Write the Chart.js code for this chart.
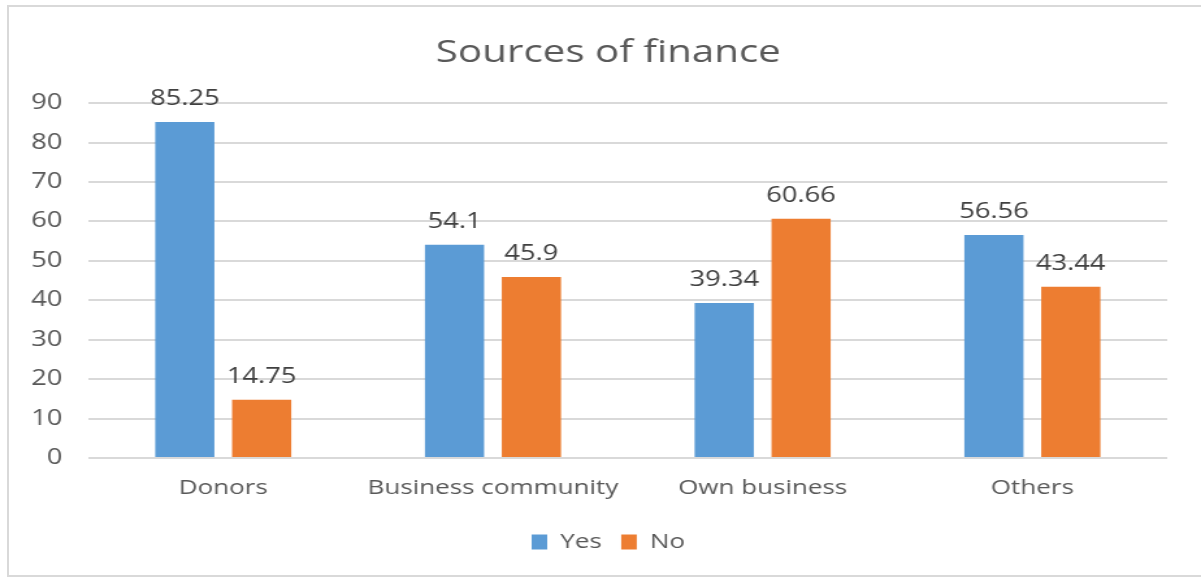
<!DOCTYPE html>
<html><head><meta charset="utf-8">
<script src="https://cdn.jsdelivr.net/npm/chart.js@4.4.1/dist/chart.umd.min.js"></script>
<style>
html,body{margin:0;padding:0;background:#fff;overflow:hidden;}
#wrap{position:absolute;left:0;top:0;width:1201px;height:578px;overflow:hidden;}
#frame{position:absolute;left:7px;top:5px;width:1220px;height:572px;border:2px solid #d9d9d9;box-sizing:border-box;}
#c{position:absolute;left:0;top:0;width:936px;height:578px;transform:scaleX(1.29978);transform-origin:0 0;}
</style></head>
<body>
<div id="wrap"><div id="frame"></div><canvas id="c" width="936" height="578"></canvas></div>
<script>
const categories = ["Donors", "Business community", "Own business", "Others"];
const yesValues = [85.25, 54.1, 39.34, 56.56];
const noValues = [14.75, 45.9, 60.66, 43.44];
const yTicks = [0, 10, 20, 30, 40, 50, 60, 70, 80, 90];

const FONT = "'Open Sans', 'Liberation Sans', sans-serif";
const TXT = "#595959";

const labelPlugin = {
  id: 'valLabels',
  afterDatasetsDraw(chart) {
    const ctx = chart.ctx;
    ctx.save();
    ctx.font = "21px " + FONT;
    ctx.fillStyle = "#404040";
    ctx.textAlign = "center";
    ctx.textBaseline = "alphabetic";
    chart.data.datasets.forEach((ds, i) => {
      chart.getDatasetMeta(i).data.forEach((el, j) => {
        ctx.fillText(String(ds.data[j]), el.x, el.y - 17);
      });
    });
    ctx.restore();
  }
};

new Chart(document.getElementById('c'), {
  type: 'bar',
  data: {
    labels: categories,
    datasets: [
      {label: 'Yes', data: yesValues, backgroundColor: '#5B9BD5', categoryPercentage: 0.57, barPercentage: 0.77},
      {label: 'No', data: noValues, backgroundColor: '#ED7D31', categoryPercentage: 0.57, barPercentage: 0.77}
    ]
  },
  options: {
    responsive: false,
    animation: false,
    devicePixelRatio: 1,
    layout: {padding: {left: 0, right: 0, top: 0, bottom: 16}},
    plugins: {
      title: {display: true, text: 'Sources of finance', color: TXT, font: {family: FONT, size: 31, weight: 'normal'}, padding: {top: 35, bottom: 31}},
      legend: {position: 'bottom', labels: {color: TXT, font: {family: FONT, size: 20}, boxWidth: 12, boxHeight: 15, padding: 15}},
      tooltip: {enabled: false}
    },
    scales: {
      x: {
        afterFit(s) { s.height = 59; },
        grid: {display: false},
        border: {display: false},
        ticks: {color: TXT, font: {family: FONT, size: 20}, padding: 10}
      },
      y: {
        min: 0, max: 90,
        afterFit(s) { s.width = 68; },
        afterBuildTicks(s) { s.ticks = yTicks.map(v => ({value: v})); },
        grid: {color: '#d9d9d9', lineWidth: 2, drawTicks: false},
        border: {display: false},
        ticks: {color: TXT, font: {family: FONT, size: 21}, padding: 20}
      },
      yRight: {
        position: 'right',
        min: 0, max: 90,
        afterFit(s) { s.width = 38; },
        grid: {display: false, drawTicks: false},
        border: {display: false},
        ticks: {display: false}
      }
    }
  },
  plugins: [labelPlugin]
});
</script>
</body></html>
